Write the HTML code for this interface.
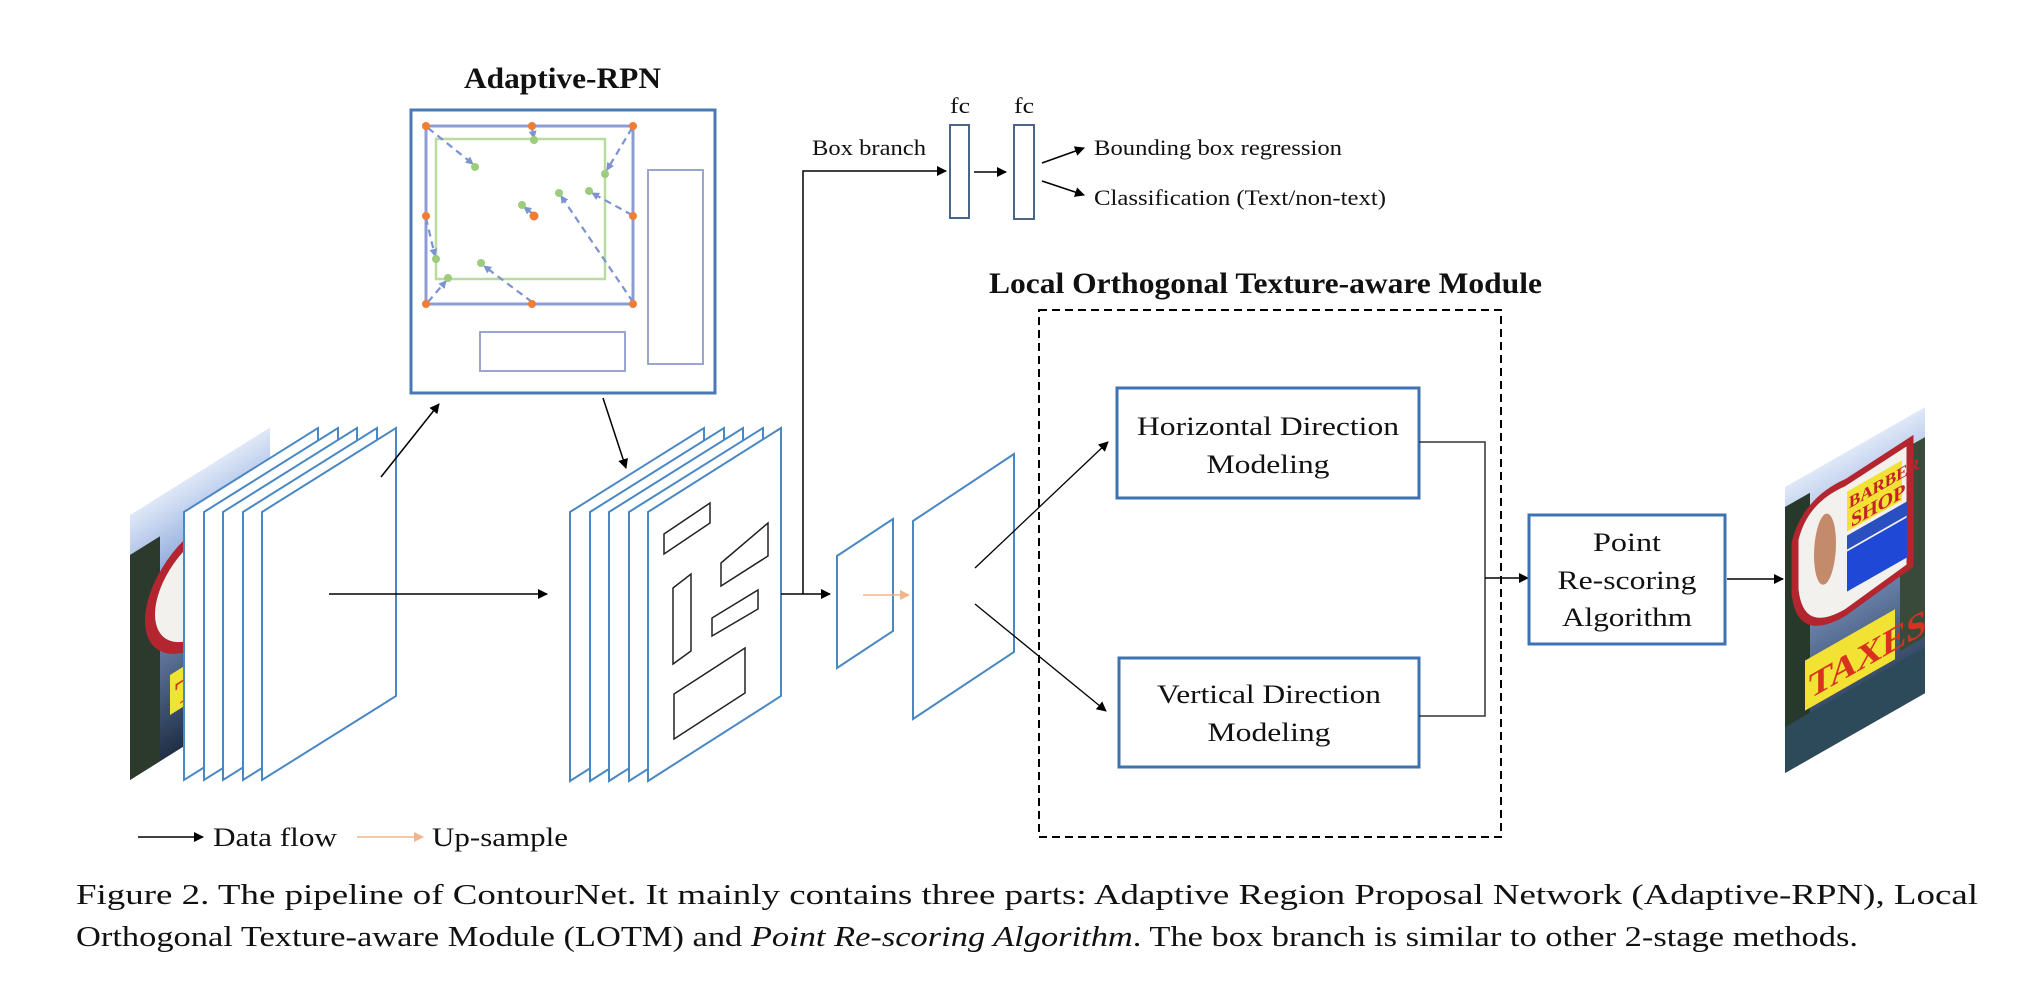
<!DOCTYPE html>
<html><head><meta charset="utf-8"><style>
html,body{margin:0;padding:0;background:#fff}
svg{display:block}
text{font-family:"Liberation Serif",serif;fill:#111}
</style></head><body>
<svg width="2042" height="982" viewBox="0 0 2042 982" xmlns="http://www.w3.org/2000/svg">
<defs>
<marker id="ah" markerWidth="10" markerHeight="10" refX="9" refY="5" orient="auto" markerUnits="userSpaceOnUse"><path d="M0,0 L10,5 L0,10 z" fill="#000"/></marker>
<marker id="ao" markerWidth="10" markerHeight="10" refX="9" refY="5" orient="auto" markerUnits="userSpaceOnUse"><path d="M0,0 L10,5 L0,10 z" fill="#f2b48a"/></marker>
<marker id="ab" markerWidth="8" markerHeight="8" refX="7" refY="4" orient="auto" markerUnits="userSpaceOnUse"><path d="M0,0 L8,4 L0,8 z" fill="#7d93cf"/></marker>
<linearGradient id="sky" x1="0" y1="0" x2="0" y2="1"><stop offset="0" stop-color="#dfe8f8"/><stop offset="0.3" stop-color="#8ea9dc"/><stop offset="1" stop-color="#1f3046"/></linearGradient>
</defs>

<text x="464" y="88" font-size="30" font-weight="bold" textLength="197" lengthAdjust="spacingAndGlyphs">Adaptive-RPN</text>

<rect x="411" y="110" width="304" height="283" fill="none" stroke="#4a7ab5" stroke-width="3"/>
<rect x="426" y="126" width="207" height="178" fill="none" stroke="#8d9dd4" stroke-width="3"/>
<rect x="436" y="139" width="169" height="140" fill="none" stroke="#b8dba0" stroke-width="2.5"/>
<rect x="648" y="170" width="55" height="194" fill="none" stroke="#9aa6cf" stroke-width="2"/>
<rect x="480" y="332" width="145" height="39" fill="none" stroke="#9aa6cf" stroke-width="2"/>
<g stroke="#7d93cf" stroke-width="2.2" stroke-dasharray="7,5" fill="none" marker-end="url(#ab)">
<line x1="428" y1="128" x2="473" y2="164"/>
<line x1="532" y1="128" x2="534" y2="138"/>
<line x1="632" y1="128" x2="607" y2="170"/>
<line x1="632" y1="215" x2="592" y2="193"/>
<line x1="633" y1="302" x2="561" y2="196"/>
<line x1="532" y1="302" x2="484" y2="266"/>
<line x1="428" y1="302" x2="446" y2="281"/>
<line x1="426" y1="218" x2="435" y2="256"/>
<line x1="533" y1="214" x2="524" y2="207"/>
</g>
<g fill="#9ccc7c">
<circle cx="475" cy="167" r="4"/><circle cx="534" cy="140" r="4"/><circle cx="605" cy="174" r="4"/>
<circle cx="522" cy="205" r="4"/><circle cx="559" cy="193" r="4"/><circle cx="589" cy="191" r="4"/>
<circle cx="436" cy="259" r="4"/><circle cx="481" cy="263" r="4"/><circle cx="448" cy="278" r="4"/>
</g>
<g fill="#ef7d33">
<circle cx="426" cy="126" r="4"/><circle cx="532" cy="126" r="4"/><circle cx="633" cy="126" r="4"/>
<circle cx="426" cy="216" r="4"/><circle cx="633" cy="216" r="4"/><circle cx="534" cy="216" r="4.5"/>
<circle cx="426" cy="304" r="4"/><circle cx="532" cy="304" r="4"/><circle cx="633" cy="304" r="4"/>
</g>

<g transform="translate(130,515) skewY(-32)">
<rect x="0" y="0" width="140" height="265" fill="url(#sky)"/>
<rect x="0" y="40" width="30" height="225" fill="#2b3a2c"/>
<circle cx="75" cy="115" r="55" fill="#f3f1ee" stroke="#b3262f" stroke-width="10"/>
<ellipse cx="70" cy="110" rx="14" ry="40" fill="#c48a6c"/>
<rect x="40" y="185" width="80" height="40" fill="#f2e233"/>
<text x="45" y="220" font-size="34" font-weight="bold" style="fill:#d8321f" font-family="Liberation Sans">TAX</text>
</g>
<g fill="#fff" stroke="#4a88c4" stroke-width="2">
<polygon points="184,512 318,428 318,696 184,780"/>
<polygon points="204,512 338,428 338,696 204,780"/>
<polygon points="223,512 357,428 357,696 223,780"/>
<polygon points="243,512 377,428 377,696 243,780"/>
<polygon points="262,512 396,428 396,696 262,780"/>
</g>

<g fill="#fff" stroke="#4a88c4" stroke-width="2">
<polygon points="570,512 704,428 704,696 570,781"/>
<polygon points="590,512 724,428 724,696 590,781"/>
<polygon points="609,512 743,428 743,696 609,781"/>
<polygon points="629,512 763,428 763,696 629,781"/>
<polygon points="648,512 781,428 781,696 648,781"/>
</g>
<g fill="none" stroke="#222" stroke-width="1.5">
<polygon points="664,534 710,503 710,523 664,554"/>
<polygon points="721,563 768,523 768,556 721,586"/>
<polygon points="673,588 691,574 691,651 673,664"/>
<polygon points="712,618 758,590 758,609 712,636"/>
<polygon points="674,694 745,648 745,693 674,739"/>
</g>

<g stroke="#000" stroke-width="1.5" fill="none" marker-end="url(#ah)">
<line x1="381" y1="477" x2="439" y2="404"/>
<line x1="603" y1="398" x2="626" y2="468"/>
<line x1="329" y1="594" x2="547" y2="594"/>
<line x1="781" y1="594" x2="830" y2="594"/>
<polyline points="803,594 803,171 946,171"/>
<line x1="974" y1="172" x2="1006" y2="172"/>
<line x1="1042" y1="163" x2="1084" y2="148"/>
<line x1="1042" y1="181" x2="1084" y2="195"/>
</g>

<rect x="950" y="125" width="19" height="93" fill="#fff" stroke="#4e6486" stroke-width="2"/>
<rect x="1014" y="125" width="20" height="94" fill="#fff" stroke="#4e6486" stroke-width="2"/>
<text x="950" y="113" font-size="22" textLength="20" lengthAdjust="spacingAndGlyphs">fc</text>
<text x="1014" y="113" font-size="22" textLength="20" lengthAdjust="spacingAndGlyphs">fc</text>
<text x="812" y="155" font-size="22" textLength="114" lengthAdjust="spacingAndGlyphs">Box branch</text>
<text x="1094" y="155" font-size="22" textLength="248" lengthAdjust="spacingAndGlyphs">Bounding box regression</text>
<text x="1094" y="205" font-size="22" textLength="292" lengthAdjust="spacingAndGlyphs">Classification (Text/non-text)</text>

<polygon points="837,556 893,519 893,631 837,668" fill="#fff" stroke="#4a88c4" stroke-width="2"/>
<line x1="863" y1="595" x2="909" y2="595" stroke="#f2b48a" stroke-width="1.5" marker-end="url(#ao)"/>
<polygon points="913,521 1014,454 1014,652 913,719" fill="#fff" stroke="#4a88c4" stroke-width="2"/>
<g stroke="#000" stroke-width="1.3" fill="none" marker-end="url(#ah)">
<line x1="975" y1="568" x2="1108" y2="442"/>
<line x1="975" y1="604" x2="1106" y2="711"/>
</g>

<text x="989" y="293" font-size="30" font-weight="bold" textLength="553" lengthAdjust="spacingAndGlyphs">Local Orthogonal Texture-aware Module</text>
<rect x="1039" y="310" width="462" height="527" fill="none" stroke="#000" stroke-width="2" stroke-dasharray="8,5"/>
<rect x="1117" y="388" width="302" height="110" fill="#fff" stroke="#3f72b0" stroke-width="3"/>
<text x="1268" y="435" font-size="26" text-anchor="middle" textLength="262" lengthAdjust="spacingAndGlyphs">Horizontal Direction</text>
<text x="1268" y="473" font-size="26" text-anchor="middle" textLength="123" lengthAdjust="spacingAndGlyphs">Modeling</text>
<rect x="1119" y="658" width="300" height="109" fill="#fff" stroke="#3f72b0" stroke-width="3"/>
<text x="1269" y="703" font-size="26" text-anchor="middle" textLength="224" lengthAdjust="spacingAndGlyphs">Vertical Direction</text>
<text x="1269" y="741" font-size="26" text-anchor="middle" textLength="123" lengthAdjust="spacingAndGlyphs">Modeling</text>
<polyline points="1419,442 1485,442 1485,716 1419,716" fill="none" stroke="#333" stroke-width="1.5"/>
<line x1="1485" y1="578" x2="1528" y2="578" stroke="#000" stroke-width="1.5" marker-end="url(#ah)"/>

<rect x="1529" y="515" width="196" height="129" fill="#fff" stroke="#3f72b0" stroke-width="3"/>
<text x="1627" y="551" font-size="26" text-anchor="middle" textLength="68" lengthAdjust="spacingAndGlyphs">Point</text>
<text x="1627" y="589" font-size="26" text-anchor="middle" textLength="139" lengthAdjust="spacingAndGlyphs">Re-scoring</text>
<text x="1627" y="626" font-size="26" text-anchor="middle" textLength="130" lengthAdjust="spacingAndGlyphs">Algorithm</text>
<line x1="1727" y1="579" x2="1783" y2="579" stroke="#000" stroke-width="1.5" marker-end="url(#ah)"/>

<g transform="translate(1785,487) skewY(-29.7)">
<rect x="0" y="0" width="140" height="286" fill="url(#sky)"/>
<rect x="0" y="20" width="25" height="266" fill="#26392a"/>
<rect x="115" y="30" width="25" height="200" fill="#3a4a3a"/>
<path d="M10,60 Q20,25 60,30 L125,25 L125,150 L60,160 Q15,160 10,110 z" fill="#f3f1ee" stroke="#b3262f" stroke-width="7"/>
<ellipse cx="40" cy="85" rx="11" ry="35" fill="#c48a6c"/>
<rect x="62" y="40" width="55" height="40" fill="#f2e233"/>
<text x="64" y="58" font-size="17" font-weight="bold" style="fill:#c8202a" font-family="Liberation Sans">BARBER</text>
<text x="66" y="78" font-size="20" font-weight="bold" style="fill:#c8202a" font-family="Liberation Sans">SHOP</text>
<rect x="62" y="84" width="60" height="14" fill="#2a4fc0"/>
<rect x="62" y="100" width="60" height="40" fill="#1f48d6"/>
<rect x="20" y="185" width="90" height="50" fill="#f2e233"/>
<text x="24" y="226" font-size="36" font-weight="bold" style="fill:#d8321f" font-family="Liberation Sans">TAXES</text>
<rect x="0" y="240" width="140" height="46" fill="#2d4a5a"/>
</g>

<line x1="138" y1="837" x2="203" y2="837" stroke="#000" stroke-width="1.5" marker-end="url(#ah)"/>
<text x="213" y="846" font-size="26" textLength="124" lengthAdjust="spacingAndGlyphs">Data flow</text>
<line x1="357" y1="837" x2="423" y2="837" stroke="#f2b48a" stroke-width="1.5" marker-end="url(#ao)"/>
<text x="432" y="846" font-size="26" textLength="136" lengthAdjust="spacingAndGlyphs">Up-sample</text>

<text x="76" y="904" font-size="28" textLength="1902" lengthAdjust="spacingAndGlyphs">Figure 2.   The pipeline of ContourNet.  It mainly contains three parts:  Adaptive Region Proposal Network (Adaptive-RPN), Local</text>
<text x="76" y="946" font-size="28" textLength="1782" lengthAdjust="spacingAndGlyphs">Orthogonal Texture-aware Module (LOTM) and <tspan font-style="italic">Point Re-scoring Algorithm</tspan>. The box branch is similar to other 2-stage methods.</text>
</svg>
</body></html>
